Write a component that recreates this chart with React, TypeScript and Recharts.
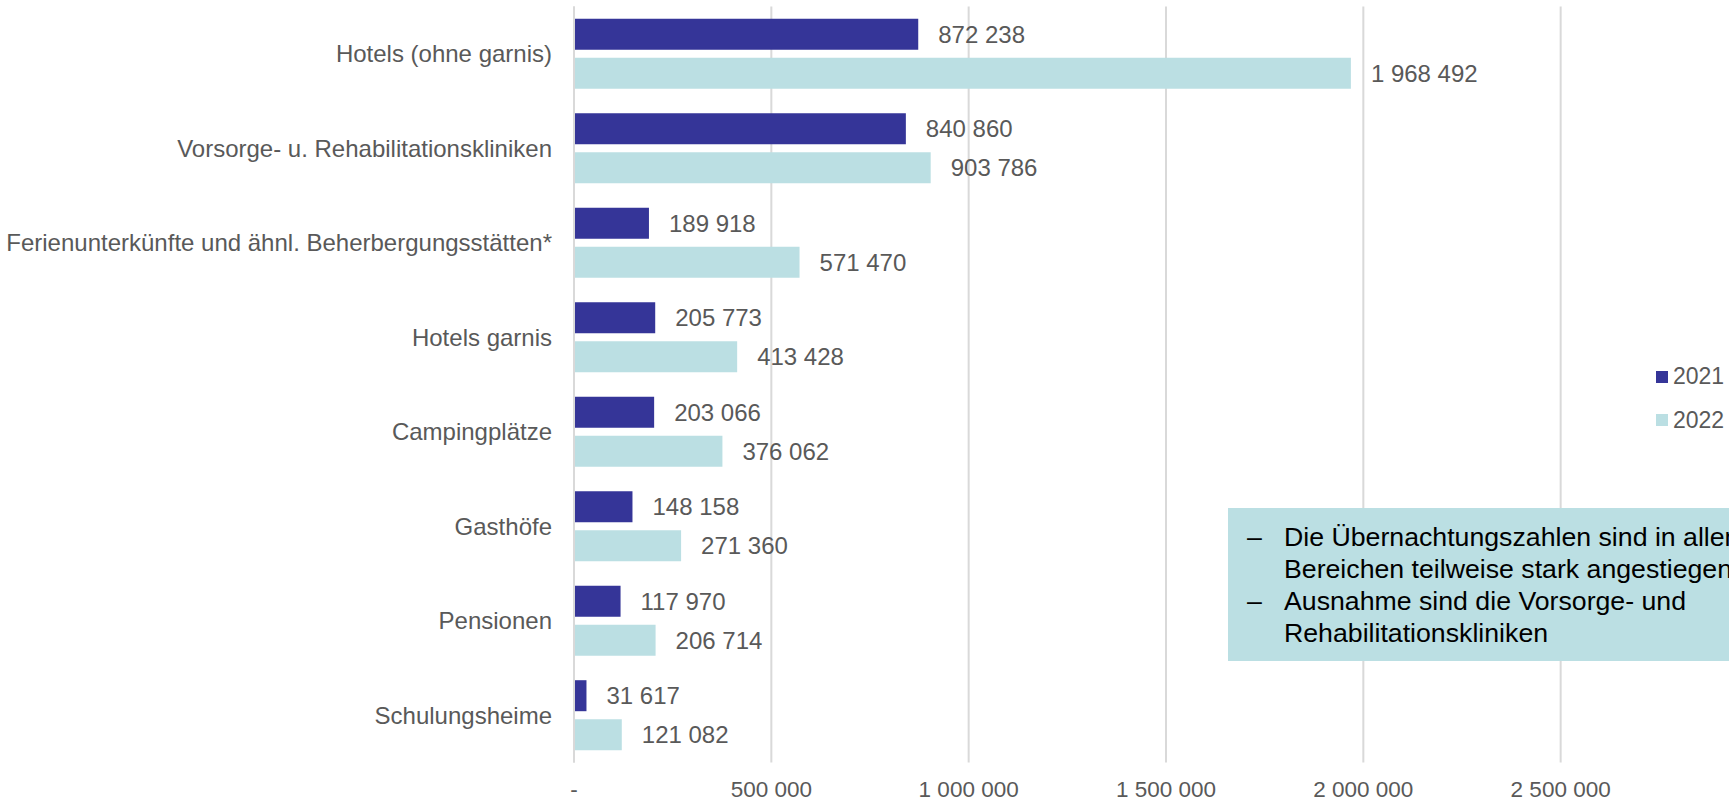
import React from 'react';
import { BarChart, Bar, XAxis, YAxis, CartesianGrid, Legend, LabelList } from 'recharts';

const categories = [
  'Hotels (ohne garnis)',
  'Vorsorge- u. Rehabilitationskliniken',
  'Ferienunterkünfte und ähnl. Beherbergungsstätten*',
  'Hotels garnis',
  'Campingplätze',
  'Gasthöfe',
  'Pensionen',
  'Schulungsheime',
];
const values2021 = [872238, 840860, 189918, 205773, 203066, 148158, 117970, 31617];
const values2022 = [1968492, 903786, 571470, 413428, 376062, 271360, 206714, 121082];
const xTicks = [0, 500000, 1000000, 1500000, 2000000, 2500000];
const seriesNames = ['2021', '2022'];
const noteLines = [
  ['Die Übernachtungszahlen sind in allen', 'Bereichen teilweise stark angestiegen'],
  ['Ausnahme sind die Vorsorge- und', 'Rehabilitationskliniken'],
];

const COLOR_2021 = '#353598';
const COLOR_2022 = '#BBDFE3';
const TEXT = '#595959';
const GRID = '#D9D9D9';
const FONT = '"Liberation Sans", Arial, sans-serif';

const data = categories.map((name, i) => ({ name, y2021: values2021[i], y2022: values2022[i] }));

const fmt = (v: number) => (v === 0 ? '-' : String(v).replace(/\B(?=(\d{3})+(?!\d))/g, ' '));

const renderLegend = () => (
  <div style={{ fontFamily: FONT }}>
    {seriesNames.map((n, i) => (
      <div key={n} style={{ display: 'flex', alignItems: 'center', height: 43.5 }}>
        <div style={{ width: 12, height: 12, background: i === 0 ? COLOR_2021 : COLOR_2022, marginRight: 5 }} />
        <span style={{ fontSize: 23, color: TEXT, lineHeight: '23px' }}>{n}</span>
      </div>
    ))}
  </div>
);

export default function App() {
  return (
    <div
      style={{
        position: 'fixed',
        left: 0,
        top: 0,
        width: 1729,
        height: 801,
        overflow: 'hidden',
        background: '#fff',
        fontFamily: FONT,
      }}
    >
      <BarChart
        width={1800}
        height={801}
        data={data}
        layout="vertical"
        margin={{ top: 6.5, right: 42, left: 0, bottom: 0 }}
        barCategoryGap={12.2}
        barGap={8}
      >
        <CartesianGrid horizontal={false} stroke={GRID} strokeWidth={2} />
        <XAxis
          type="number"
          domain={[0, 3000000]}
          ticks={xTicks}
          tickFormatter={fmt}
          axisLine={false}
          tickLine={false}
          tickSize={6}
          tickMargin={13}
          height={38.5}
          tick={{ fill: TEXT, fontSize: 22.5, fontFamily: FONT }}
        />
        <YAxis
          type="category"
          dataKey="name"
          width={574}
          interval={0}
          axisLine={{ stroke: GRID, strokeWidth: 2 }}
          tickLine={false}
          tickSize={6}
          tickMargin={16}
          tick={{ fill: TEXT, fontSize: 24, fontFamily: FONT }}
        />
        <Legend
          layout="vertical"
          verticalAlign="middle"
          align="center"
          content={renderLegend}
          wrapperStyle={{ position: 'absolute', left: 1656, top: 355, width: 'auto', height: 'auto' }}
        />
        <Bar dataKey="y2021" name="2021" fill={COLOR_2021} isAnimationActive={false}>
          <LabelList dataKey="y2021" position="right" offset={20} formatter={fmt} fill={TEXT} fontSize={24} fontFamily={FONT} />
        </Bar>
        <Bar dataKey="y2022" name="2022" fill={COLOR_2022} isAnimationActive={false}>
          <LabelList dataKey="y2022" position="right" offset={20} formatter={fmt} fill={TEXT} fontSize={24} fontFamily={FONT} />
        </Bar>
      </BarChart>
      <div
        style={{
          position: 'absolute',
          left: 1228,
          top: 508,
          width: 600,
          height: 153,
          background: COLOR_2022,
          boxSizing: 'border-box',
          paddingTop: 13,
          paddingLeft: 19,
          fontFamily: FONT,
          fontSize: 26.7,
          lineHeight: '32px',
          color: '#000',
          whiteSpace: 'nowrap',
        }}
      >
        {noteLines.map((lines, i) => (
          <div key={i} style={{ display: 'flex' }}>
            <div style={{ width: 37 }}>–</div>
            <div>
              {lines.map((l, j) => (
                <div key={j}>{l}</div>
              ))}
            </div>
          </div>
        ))}
      </div>
    </div>
  );
}
